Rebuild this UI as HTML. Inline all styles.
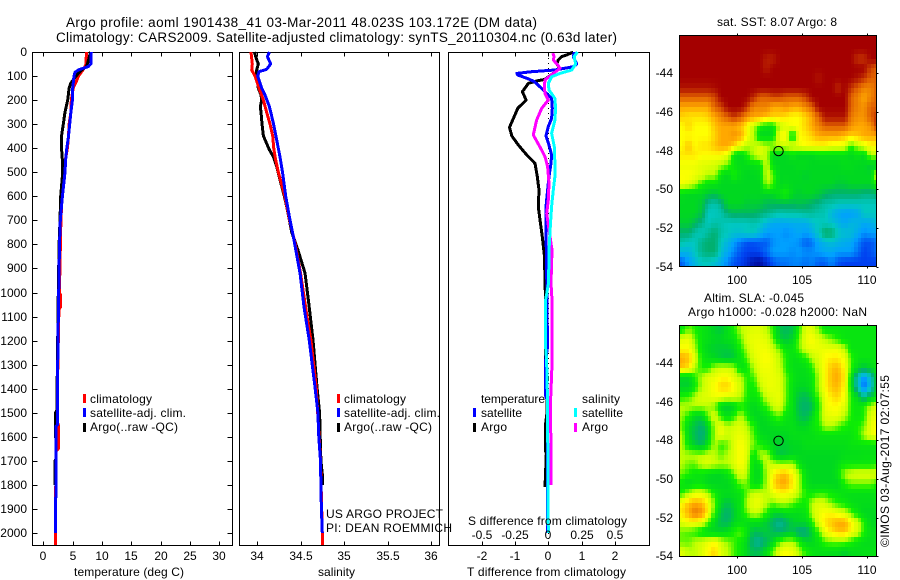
<!DOCTYPE html>
<html lang="en">
<head>
<meta charset="utf-8">
<title>Argo profile 1901438_41</title>
<style>
html,body{margin:0;padding:0;background:#fff;}
svg{display:block;position:absolute;left:0;top:0;}
text{font-family:"Liberation Sans",Arial,sans-serif;font-size:12px;fill:#000;}
.title{font-size:13.5px;}
</style>
</head>
<body>
<svg id="chart" xmlns="http://www.w3.org/2000/svg" width="900" height="580" viewBox="0 0 900 580">
  <rect x="0" y="0" width="900" height="580" fill="#fff"/>
  <defs>
    <clipPath id="map1clip"><rect x="679.5" y="35.5" width="196.5" height="231"/></clipPath>
    <clipPath id="map2clip"><rect x="679.5" y="325.5" width="196.5" height="231"/></clipPath>
  </defs>
  <g id="map1cells" clip-path="url(#map1clip)" shape-rendering="crispEdges"></g>
  <g id="map2cells" clip-path="url(#map2clip)" shape-rendering="crispEdges"></g>
  <g id="axes" shape-rendering="crispEdges"></g>
  <g id="series" shape-rendering="crispEdges"></g>
  <g id="labels"></g>

  <text class="title" x="66" y="27" textLength="471" lengthAdjust="spacing">Argo profile: aoml 1901438_41 03-Mar-2011 48.023S 103.172E (DM data)</text>
  <text class="title" x="56" y="42" textLength="561" lengthAdjust="spacing">Climatology: CARS2009. Satellite-adjusted climatology: synTS_20110304.nc (0.63d later)</text>

  <text x="74" y="576" textLength="110" lengthAdjust="spacing">temperature (deg C)</text>
  <text x="318" y="576" textLength="37" lengthAdjust="spacing">salinity</text>
  <text x="467" y="576" textLength="159" lengthAdjust="spacing">T difference from climatology</text>
  <text x="468" y="525" textLength="159" lengthAdjust="spacing">S difference from climatology</text>

  <g>
    <rect x="83" y="394" width="3" height="9" fill="#f00"/>
    <text x="90" y="403" textLength="62" lengthAdjust="spacing">climatology</text>
    <rect x="83" y="408" width="3" height="9" fill="#00f"/>
    <text x="90" y="417" textLength="96" lengthAdjust="spacing">satellite-adj. clim.</text>
    <rect x="83" y="423" width="3" height="9" fill="#000"/>
    <text x="90" y="431" textLength="88" lengthAdjust="spacing">Argo(..raw -QC)</text>
  </g>
  <g>
    <rect x="337" y="394" width="3" height="9" fill="#f00"/>
    <text x="344" y="403" textLength="62" lengthAdjust="spacing">climatology</text>
    <rect x="337" y="408" width="3" height="9" fill="#00f"/>
    <text x="344" y="417" textLength="96" lengthAdjust="spacing">satellite-adj. clim.</text>
    <rect x="337" y="423" width="3" height="9" fill="#000"/>
    <text x="344" y="431" textLength="88" lengthAdjust="spacing">Argo(..raw -QC)</text>
  </g>
  <text x="326" y="518" textLength="117" lengthAdjust="spacing">US ARGO PROJECT</text>
  <text x="326" y="532" textLength="126" lengthAdjust="spacing">PI: DEAN ROEMMICH</text>

  <g>
    <text x="481" y="403" textLength="64" lengthAdjust="spacing">temperature</text>
    <rect x="473" y="408" width="3" height="9" fill="#00f"/>
    <text x="481" y="417" textLength="41" lengthAdjust="spacing">satellite</text>
    <rect x="473" y="423" width="3" height="9" fill="#000"/>
    <text x="481" y="431" textLength="26" lengthAdjust="spacing">Argo</text>
    <text x="582" y="403" textLength="38" lengthAdjust="spacing">salinity</text>
    <rect x="574" y="408" width="3" height="9" fill="#0ff"/>
    <text x="582" y="417" textLength="41" lengthAdjust="spacing">satellite</text>
    <rect x="574" y="423" width="3" height="9" fill="#f0f"/>
    <text x="582" y="431" textLength="26" lengthAdjust="spacing">Argo</text>
  </g>

  <text x="717" y="26" textLength="120" lengthAdjust="spacing">sat. SST: 8.07 Argo: 8</text>
  <text x="704" y="302" textLength="100" lengthAdjust="spacing">Altim. SLA: -0.045</text>
  <text x="688" y="316" textLength="179" lengthAdjust="spacing">Argo h1000: -0.028 h2000: NaN</text>
  <text transform="translate(889,547) rotate(-90)" textLength="172" lengthAdjust="spacing">©IMOS 03-Aug-2017 02:07:55</text>
</svg>
<script>
// ---- profile data: depth (dbar) and value arrays ----
const tempClimDepth = [0,50,70,100,125,150,200,250,300,350,400,450,500,600,700,1000,1010,1060,1070,1400,1540,1550,1650,1660,1800,1810,2050];
const tempClimValues = [7.33,7.3,6.9,6.0,5.57,5.1,4.77,4.7,4.4,4.3,4.1,3.75,3.6,3.2,3.0,2.75,2.95,2.95,2.65,2.4,2.4,2.56,2.56,2.2,2.2,2.04,2.04];
const tempSatDepth = [0,50,60,75,85,100,150,200,250,300,350,400,450,500,600,700,800,1000,1200,1400,1550,1555,1850,1855,2000];
const tempSatValues = [8.18,8.1,7.7,5.97,5.4,5.23,5.0,4.95,4.7,4.5,4.3,4.0,3.8,3.7,3.25,2.9,2.76,2.62,2.5,2.4,2.4,2.2,2.2,2.04,2.04];
const tempArgoDepth = [0,60,75,100,130,150,200,250,300,350,400,450,500,600,700,800,1000,1200,1400,1490,1500,1600,1610,1690,1700,1800];
const tempArgoValues = [8.07,7.4,6.5,5.57,4.66,4.4,4.15,3.7,3.4,3.1,3.1,3.25,3.3,2.96,2.85,2.7,2.55,2.45,2.35,2.3,2.08,2.08,2.2,2.2,2.0,2.0];

const salClimDepth = [0,50,75,100,150,200,250,299,349,399,449,499,599,699,800,919,1127,1197,1393,1700,2000,2050];
const salClimValues = [33.931,33.946,33.939,33.977,34.023,34.073,34.11,34.149,34.18,34.192,34.215,34.245,34.32,34.375,34.44,34.50,34.586,34.62,34.68,34.73,34.75,34.75];
const salSatDepth = [0,19,50,72,82,100,150,179,227,297,366,436,505,599,699,768,782,919,1060,1197,1393,1500,1600,1700,1800,1900,2000];
const salSatValues = [34.142,34.119,34.157,34.11,34.023,34.008,34.054,34.092,34.142,34.188,34.226,34.264,34.295,34.33,34.379,34.418,34.425,34.494,34.54,34.6,34.667,34.70,34.71,34.73,34.735,34.74,34.75];
const salArgoDepth = [0,19,50,75,100,150,179,200,227,250,299,349,380,407,435,477,532,599,649,699,748,823,919,1060,1197,1393,1500,1600,1700,1770,1800];
const salArgoValues = [33.97,33.985,34.015,33.996,33.996,34.015,34.046,34.054,34.038,34.046,34.057,34.073,34.11,34.142,34.188,34.226,34.264,34.314,34.345,34.372,34.398,34.47,34.552,34.6,34.644,34.69,34.72,34.727,34.735,34.755,34.755];

const tdiffArgoDepth = [0,12,19,33,50,68,114,119,130,165,200,234,276,313,349,387,428,463,518,574,643,698,768,851,960,1031,1281,1350,1500,1545,1660,1670,1780,1790,1808];
const tdiffArgoValues = [0.754,0.56,0.404,0.30,0.253,0.35,-0.1,-0.30,-0.6,-0.78,-0.67,-0.92,-1.05,-1.17,-1.1,-0.9,-0.65,-0.4,-0.33,-0.28,-0.3,-0.25,-0.18,-0.114,-0.1,-0.08,-0.08,-0.03,-0.04,-0.08,-0.08,-0.06,-0.09,-0.1,-0.1];
const tdiffSatDepth = [0,19,50,61,75,82,89,96,109,123,158,193,234,276,310,349,387,428,463,518,574,643,768,851,1227,1290,1430,1450,2000];
const tdiffSatValues = [0.784,0.754,0.855,0.754,0.2,-0.5,-0.95,-0.92,-0.65,-0.42,-0.15,0.1,0.12,0.1,0,-0.07,0.02,0.1,0.08,0.02,-0.02,-0.07,-0.07,-0.054,-0.024,-0.09,-0.08,-0.02,-0.02];
const sdiffSatDepth = [0,19,50,75,89,103,130,158,193,234,283,338,394,463,518,574,643,726,823,960,1031,1227,1281,1447,2000];
const sdiffSatValues = [0.219,0.194,0.206,0.176,0.088,0.025,0,0.005,0.05,0.055,0.05,0.025,0.045,0.05,0.05,0.038,0.025,0.015,0.005,0.002,-0.02,-0.02,-0.013,-0.006,0];
const sdiffArgoDepth = [5,19,33,58,68,89,116,144,172,200,234,283,345,394,435,477,546,615,671,740,823,960,1031,1300,1447,1800];
const sdiffArgoValues = [0.034,0.044,0.038,0.076,0.088,0.038,-0.025,-0.03,-0.025,0,-0.05,-0.088,-0.113,-0.063,-0.025,-0.005,0.005,0,-0.012,0.005,0.028,0.02,0.028,0.028,0.017,0.02];

// ---- tick labels ----
const depthTicks = [0,100,200,300,400,500,600,700,800,900,1000,1100,1200,1300,1400,1500,1600,1700,1800,1900,2000];
const tempTicks = [0,5,10,15,20,25,30];
const salTicks = [34,34.5,35,35.5,36];
const tdiffTicks = [-2,-1,0,1,2];
const sdiffTicks = [-0.5,-0.25,0,0.25,0.5];
const lonTicks = [100,105,110];
const latTicks = [-44,-46,-48,-50,-52,-54];
const floatLon = [103.172];
const floatLat = [-48.023];

// ---- maps: colour-scale level per 0.5 degree cell, north to south ----
const sstLevels = [
[11,11,11,11,11,11,11,11,11,11,11,11,11,11,11,11,11,11,11,11,11,11,11,11,11,11,11,11,11,11,11],
[11,11,11,11,11,11,11,11,11,11,11,11,11,11,11,11,11,11,11,11,11,11,11,11,11,11,11,11,11,11,11],
[11,11,11,11,11,11,11,11,11,11,11,11,11,10.7,10.7,11,11,11,11,11,11,11,11,11,11,11,11,10.5,10.5,11,11],
[11,11,11,11,11,11,11,11,11,11,11,11,11,10.7,11,11,11,11,11,11,11,11,11,11,11,11,11,11,11,10.3,10],
[11,11,11,11,11,11,11,11,11,11,11,11,11,11,11,11,11,11,11,11,11,10.8,11,11,11,11,11,10.8,10.5,10,10],
[10.8,10.8,10.8,10.8,10.8,10.9,11,11,11,11,11,11,11,11,11,11,11,11,11,11,11,11,11,11,10.6,11,10.5,10,9.5,9.5,10],
[10,10,10,10,10,10.3,11,11,11,11,11,10.6,10,10,10.3,10.3,10,10,10,10.4,11,11,11,11,11,11,10,9.5,9,9.5,10],
[9,9,9,9,9,10,10.3,11,11,11,10.5,9.5,9.5,9.5,9,9,9.3,9,9,9.5,10,11,11,11,11,11,10,9.5,9.3,10,10],
[8.5,8.3,8.3,8.3,8.5,9,9.5,10,10.5,10,9.3,9,9,8.7,8.5,8.5,8.3,8,8,8.5,9,10,10.8,10.8,10.8,10.8,9.7,9.3,9.3,10,10.5],
[8,8.5,8,8,8,8.7,9,9,9,8.7,8,7,6,5.5,5.5,7,7.5,8,8,8.5,9,9.5,10,10,10,10,9.3,9,9,9.3,10.5],
[8,8,8,8,8,8.5,9,9,9.3,9,8,7,5,5,5.3,8,8,5,8,8.2,8.5,9,9,9,9,8.7,8.5,8.7,9,9,9],
[8,8.7,8,8.3,8.3,8.7,9,9,8.5,7.7,7,7,7.5,7,7,7,7.3,7.5,7.7,8,8,8,8,7.7,7.7,7.5,6,7,7.5,8,8],
[8.3,8.3,8.3,8,8,8,8,7.5,5.5,5,6,7,7.5,7,5,5,5,5.5,5,5,5,5.3,5.3,5.3,5.3,5.3,5,5.5,5,7,7],
[7.7,7.7,7.7,7.5,7.5,7.3,7,6.5,5.5,5.2,5.2,5.3,5.5,7.3,5.3,5,5,5,5.2,5.2,5,5,5,5,5,5.2,5.2,5,5,4.7,4.5],
[8,8,7.8,7.5,7,7,5.5,5,6,5.2,5,5,5.2,7.3,6.5,5,5,5,5,4.8,5,5,5,5,5,5,5,5,5,5,7.7],
[7.8,7.5,7,6,5.5,5.5,5,5,5,5,5,5,5,7,6.3,5,5.2,5,5,5,5,5,5,5,4.7,4.8,5,5,5,5,6],
[5.2,5,5,5,4.7,4.5,5,5,5,5,5,5,5,5,5,5.5,6,5,4.8,5,5,4.7,4.3,4,4,4,4,4,3.8,3.8,4],
[5,5,5,4.7,3.5,3.2,3.7,5,5,5,4.7,4.8,4.7,4.3,4.3,4.3,4.3,4.3,4.5,4.3,4,3.7,3.3,3.3,3,3,3,3,3,3,3],
[5,5,5,4.5,3,3,3.2,4,4.3,4.2,4.3,4.2,4,3.7,3.5,3.2,3.3,3.3,3.3,3.5,3.5,3.2,3.2,2.5,2.2,2,2,2.2,3,3,3],
[4.8,4.8,4.3,3.7,3,3.3,3.2,3,3,3,3,3.2,3,2.5,2.2,2.2,2.2,2.3,2.3,2.3,2.7,3,3,2.8,2.5,2.2,2.5,2.5,2.2,2.3,2.7],
[4,4,3.3,3,3.5,4,3.3,3,2.8,2.8,3,3,2.5,2,2,2,1.8,2,2.2,2,2.3,3,4.2,4,3,2.7,2.7,2.2,1.8,2,2],
[3.3,3,3,3.7,4,4,3,2.5,2,1.5,1.2,1.2,1.3,1.3,1.8,2,2,2,1.8,1.3,1.5,2.2,2.5,2.7,2.5,2.3,2.2,1.7,1.2,1.2,1.5],
[2.5,2.5,3,3.7,4,4,2.8,2.2,1.7,1.2,1,1,1.1,1.5,2,2,2,1.8,2,1.8,1.8,2,2.2,2.2,2,2,2,1.5,1,1.2,1.5],
[1.3,2,2.5,3,3,2.7,2.3,1.7,1.2,1,0.7,0.3,0.2,0.7,1.2,1.5,1.5,1.7,1.7,1.5,1.7,1.3,1.3,1.7,1.2,1,1,1,1,1,1]
];
const slaLevels = [
[5.5,6.5,6,5.5,5.3,4.8,4.6,5.3,6,7,7.3,7.5,7.5,7,6,4.5,4.2,4.5,6,7.5,7.5,6.5,5.5,5.5,5.5,5.5,5.5,5.5,5.5,5.5,5.5],
[7.5,7.7,6.5,5.5,5.3,5,5,5.3,5.5,6.5,7.5,7.7,7.7,7.5,6.5,4.8,4.5,5,6.5,7.7,8,7.5,7,6.5,6,5.5,5.5,5.5,5.5,5.5,5.5],
[8,8,7,5.5,5,4.8,4.7,4.7,5,6,7,7.7,7.8,7.8,7.3,6.5,5.5,5.5,6.5,7.5,7.7,7.7,7.7,7.7,7.7,7,5.5,5.5,5.5,5.5,5.5],
[9,8.7,7.5,5.8,5.3,5,4.7,4.5,4.7,5.5,6.5,7.5,7.8,8,7.7,7,6,5.3,5.5,6,7,7.5,8,8.2,8.2,7.7,6.3,5.5,5.5,5.5,5.5],
[8.7,8.3,7,6,6,7,7.3,7.3,7,5.3,5.7,7,7.7,7.8,7.7,7.2,6,5.3,5.2,5.3,6,7.3,8,8.7,8.8,8,6.3,5,4.5,5,5.5],
[5,5,6,7,7.5,7.7,8,8,7.5,7,6,6.3,7.5,7.7,7.7,7.5,6.5,5.5,5.2,5.2,5.5,7,8,8.8,9,8.2,5.5,3,1.7,3,5],
[4.8,4.8,5.7,7,7.5,8,8.5,8.5,8,7.3,6,5.8,7,7.7,7.7,7.5,6.5,5.3,5,5,5.5,7,8,8.7,8.8,8,5.5,3,1.3,2.7,5],
[6,6.3,7,7.5,7.5,7.8,7.7,7.5,7.5,7,6,5.5,6,7.3,7.5,7.7,6.5,5.3,4.5,4.3,5,6.5,7.7,8.3,8.5,7.8,6,5,3.5,4.7,5.5],
[7,7,7,7,7,6.5,5,4.7,5,6,5.5,5,5.5,6.3,7.2,7.5,6.3,5.3,4.3,4,4.3,6,7.7,8,8,7.5,6,5.5,6,7,7.5],
[6.8,6,5,5,6.5,7.5,6,5.2,6,7,6,5,5,5.3,6,6.5,5.5,5.3,4.5,4.2,5,6.3,7.5,7.7,7.7,7,6,5.5,6,7.5,7.7],
[6.5,5,4.5,4,5,7,7.7,7,7.3,7.5,7,6,5,5,5.2,5.3,5.3,5.3,5,5,5.5,6,7,7,6.5,6,5.7,6,6.5,7.7,8],
[7,5,4.3,3.8,4.8,7,7.8,7.2,7.5,7.7,7.3,6.3,5.2,5,5,5,5,5.3,5.3,5.3,5.3,5.5,5.5,5.5,5.5,5.5,5.5,6,7,7.7,8],
[7,5.5,4.7,4.3,5.5,7,6,6.5,7.5,8,7.5,6.5,6,5.5,5,4.8,4.8,5,5,5.3,5.3,5.3,5.3,5.3,5.3,5.3,5.5,5.5,5.5,5.5,5.5],
[7,7,7,7,7.3,7,6.5,7,7.5,8,7.5,5.5,7,7,5.5,4.5,4.7,5,5,5,5,5,5,5,5,5.2,5.2,5.2,5.3,5.3,5.3],
[7,6.5,6.5,7.3,7.5,7.2,7,7,7.5,8,7.3,5.2,5.5,7.3,7.2,7,7,7,5.5,5,5,5,5,5,5.3,5.7,5.7,5.7,5.7,5.7,6],
[6.5,6,5.5,5.5,5.2,5,5,5.5,6.5,7.5,7,5.2,5.2,7,8,8.7,8.8,8,7,5.3,5,5,5,5,5.5,7,7.3,7.5,7.5,7.5,7.5],
[5.5,5,5.5,5.5,5,5,5,5,5.5,6.5,6.5,5.3,5.5,7,8.3,9,9,8.2,7,5.5,5,5,5,5,5,6,6.5,6.5,6.5,6.5,6],
[6,7,7.5,7.5,7,5.7,5.3,5.2,5.3,5.5,6.5,7.3,7.3,7,7.7,8,8,7.7,7,6,5.7,6,6,5.7,5.5,5.3,5.3,5.3,5.3,5.3,5.5],
[8,8.7,9,8.8,8,6.5,5,4.5,5,5.5,7,7.7,7.7,7,6.5,7,7,6.5,6,5.8,7,7.5,7.3,6.5,6,5.7,5.3,5.2,5.2,5.2,5.3],
[8.3,9,9.7,9.3,8.2,6,4.5,4,4.7,5.5,6.5,7.3,7,6,5,5,5.3,5.2,5.2,5.5,7,7.7,8,8,7.7,7.3,6.5,5.5,5,5,5],
[7.5,8,8,7.7,6.5,5,4.3,4.2,5,5.3,5.2,5.3,5.2,4.7,4,3.5,4,4.8,5,5,6,7.7,8.3,8.7,9,9,8.2,7.3,6,5,5],
[6.5,6.3,6,5.5,5,5,5,5.3,6,6.5,5.5,4.3,4.5,4.7,4.3,4,4.3,4.5,3.7,3.8,4.8,6.3,7.7,8.3,8.7,8.7,8,7.3,6,5.3,5.3],
[6.5,6.5,7,7.3,7.7,8,7.3,6.7,6.3,5.7,5,3.7,3.5,4.3,5,6.5,7,7,6,5,5,5.5,6.3,6.5,6.5,6.5,6,5.5,5.2,5.2,5.3],
[7.5,7,7,7.5,8,8.5,7.5,7,6.3,5.7,5,4.3,4.5,5.3,6.5,7.7,8,7.7,7,6,5.5,5.3,5.3,5.2,5.2,4.8,5.2,5.2,5.3,5.3,5.5]
];
const paletteColours = ['#000090','#0040f0','#00a0ff','#00c8c0','#00b070','#00d820','#10f000','#c0ff00','#ffff00','#ffa800','#e06000','#a40000'];

// ---- axis functions ----
const depthY = d => 52 + d * 0.2405;
const tempX = t => 43.3 + t * 5.87;
const salX = s => 257 + (s - 34) * 87;
const tdiffX = t => 548.3 + t * 33.2;
const sdiffX = s => 548.3 + s * 132.8;
const lonX = lon => 737.3 + (lon - 100) * 13;
const lat1Y = lat => 73.3 + (-44 - lat) * 19.33;
const lat2Y = lat => 363 + (-44 - lat) * 19.33;

const NS = 'http://www.w3.org/2000/svg';
function make(tag, parent, attrs) {
  const el = document.createElementNS(NS, tag);
  for (const k in attrs) el.setAttribute(k, attrs[k]);
  parent.appendChild(el);
  return el;
}
function colourFor(level) {
  const v = Math.max(0, Math.min(11, level));
  const a = Math.min(10, Math.floor(v));
  const f = v - a;
  const hex = h => [1, 3, 5].map(i => parseInt(h.substr(i, 2), 16));
  const p = hex(paletteColours[a]);
  const q = hex(paletteColours[a + 1]);
  return 'rgb(' + p.map((c, i) => Math.round(c + (q[i] - c) * f)).join(',') + ')';
}
function sample(grid, row, col) {
  const r = Math.max(0, Math.min(grid.length - 1, row));
  const r0 = Math.floor(r);
  const r1 = Math.min(grid.length - 1, r0 + 1);
  const cap = grid[r0].length - 1;
  const c = Math.max(0, Math.min(cap, col));
  const c0 = Math.floor(c);
  const c1 = Math.min(cap, c0 + 1);
  const fr = r - r0;
  const fc = c - c0;
  return (grid[r0][c0] * (1 - fc) + grid[r0][c1] * fc) * (1 - fr) +
         (grid[r1][c0] * (1 - fc) + grid[r1][c1] * fc) * fr;
}
function drawMap(groupId, grid, yFn, cellName) {
  const g = document.getElementById(groupId);
  const rows = grid.length * 2;
  const cols = grid[0].length * 2;
  for (let r = 0; r < rows; r++) {
    for (let c = 0; c < cols; c++) {
      const lon0 = 95.5 + c * 0.25;
      const lat0 = -42 - r * 0.25;
      const x0 = Math.round(lonX(lon0));
      const y0 = Math.round(yFn(lat0));
      const x1 = Math.round(lonX(lon0 + 0.25));
      const y1 = Math.round(yFn(lat0 - 0.25));
      const value = sample(grid, (r + 0.5) / 2 - 0.5, (c + 0.5) / 2 - 0.5);
      const cell = make('rect', g, {x: x0, y: y0, width: x1 - x0, height: y1 - y0, fill: colourFor(value)});
      
      
    }
  }
}
drawMap('map1cells', sstLevels, lat1Y, 'sst-cell');
drawMap('map2cells', slaLevels, lat2Y, 'sla-cell');

const axesG = document.getElementById('axes');
const labelsG = document.getElementById('labels');
const seriesG = document.getElementById('series');

function frame(x0, y0, x1, y1, name) {
  const el = make('rect', axesG, {x: x0 + 0.5, y: y0 + 0.5, width: x1 - x0, height: y1 - y0, fill: 'none', stroke: '#000', 'stroke-width': 1});
  
  
}
function tick(x0, y0, x1, y1, name) {
  const el = make('line', axesG, {x1: x0 + 0.5, y1: y0 + 0.5, x2: x1 + 0.5, y2: y1 + 0.5, stroke: '#000', 'stroke-width': 1});
  
  
}
function label(x, y, text, anchor, name) {
  const el = make('text', labelsG, {x: x, y: y, 'text-anchor': anchor});
  el.textContent = text;
  
  
}
function curve(depths, values, xFn, colour, name) {
  const pts = depths.map((d, i) => xFn(values[i]).toFixed(1) + ',' + depthY(d).toFixed(1)).join(' ');
  const el = make('polyline', seriesG, {points: pts, fill: 'none', stroke: colour, 'stroke-width': 3, 'stroke-linejoin': 'round', 'stroke-linecap': 'butt'});
  
  
}

// profile panels
frame(32, 52, 232, 545, 'temperature-panel-frame');
frame(239, 52, 439, 545, 'salinity-panel-frame');
frame(448, 52, 649, 545, 'difference-panel-frame');

depthTicks.forEach(d => {
  const y = Math.round(depthY(d));
  tick(32, y, 37, y, 'depth-tick-left');
  tick(227, y, 232, y, 'depth-tick-right');
  label(27, y + 4, String(d), 'end', 'depth-tick-label');
});
tempTicks.forEach(t => {
  const x = Math.round(tempX(t));
  tick(x, 52, x, 56, 'temperature-tick-top');
  tick(x, 541, x, 545, 'temperature-tick-bottom');
  label(x, 560, String(t), 'middle', 'temperature-tick-label');
});
salTicks.forEach(s => {
  const x = Math.round(salX(s));
  tick(x, 52, x, 56, 'salinity-tick-top');
  tick(x, 541, x, 545, 'salinity-tick-bottom');
  label(x, 560, String(s), 'middle', 'salinity-tick-label');
});
tdiffTicks.forEach(t => {
  const x = Math.round(tdiffX(t));
  tick(x, 52, x, 56, 't-difference-tick-top');
  tick(x, 541, x, 545, 't-difference-tick-bottom');
  label(x, 560, String(t), 'middle', 't-difference-tick-label');
});
sdiffTicks.forEach(s => {
  label(Math.round(sdiffX(s)), 539, String(s), 'middle', 's-difference-tick-label');
});

// temperature series
curve(tempClimDepth, tempClimValues, tempX, '#f00', 'temperature-climatology-line');
curve(tempArgoDepth, tempArgoValues, tempX, '#000', 'temperature-argo-line');
curve(tempSatDepth, tempSatValues, tempX, '#00f', 'temperature-satellite-line');
// salinity series
curve(salArgoDepth, salArgoValues, salX, '#000', 'salinity-argo-line');
curve(salClimDepth, salClimValues, salX, '#f00', 'salinity-climatology-line');
curve(salSatDepth, salSatValues, salX, '#00f', 'salinity-satellite-line');
// difference series
const zeroLine = make('line', seriesG, {x1: 548.5, y1: 53, x2: 548.5, y2: 544, stroke: '#000', 'stroke-width': 1, 'stroke-dasharray': '1 4'});


curve(tdiffArgoDepth, tdiffArgoValues, tdiffX, '#000', 't-difference-argo-line');
curve(tdiffSatDepth, tdiffSatValues, tdiffX, '#00f', 't-difference-satellite-line');
curve(sdiffArgoDepth, sdiffArgoValues, sdiffX, '#f0f', 's-difference-argo-line');
curve(sdiffSatDepth, sdiffSatValues, sdiffX, '#0ff', 's-difference-satellite-line');

// maps
[[lat1Y, 35, 266, 284, 'sst'], [lat2Y, 325, 556, 574, 'sla']].forEach(spec => {
  const yFn = spec[0], top = spec[1], bottom = spec[2], base = spec[3], key = spec[4];
  frame(679, top, 876, bottom, key + '-map-frame');
  lonTicks.forEach(lon => {
    const x = Math.round(lonX(lon));
    tick(x, top - 2, x, top, key + '-lon-tick-top');
    tick(x, bottom, x, bottom + 2, key + '-lon-tick-bottom');
    label(x, base, String(lon), 'middle', key + '-lon-label');
  });
  latTicks.forEach(lat => {
    const y = Math.round(yFn(lat));
    tick(876, y, 878, y, key + '-lat-tick');
    label(673, y + 4, String(lat), 'end', key + '-lat-label');
  });
  const marker = make('circle', axesG, {cx: lonX(floatLon[0]), cy: yFn(floatLat[0]), r: 4.7, fill: 'none', stroke: '#000', 'stroke-width': 1});
  marker.setAttribute('shape-rendering', 'auto');
  
  
});
</script>
</body>
</html>
